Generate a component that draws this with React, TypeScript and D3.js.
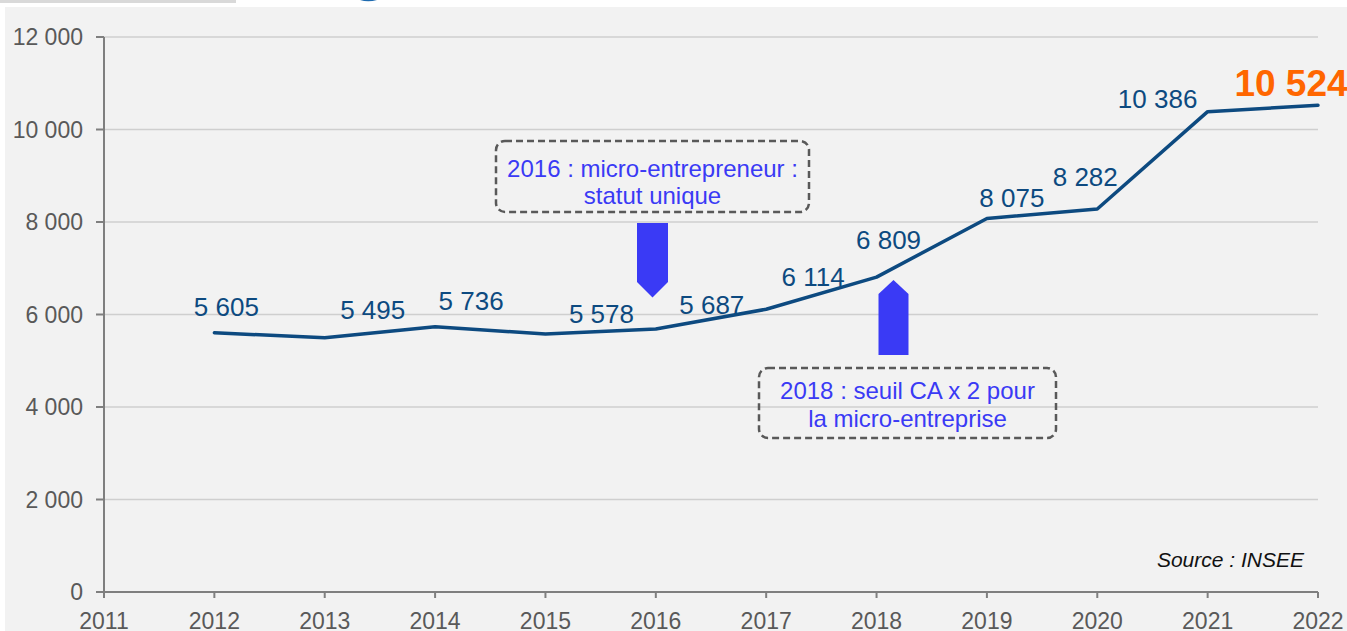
import React from "react";
import * as d3 from "d3";

const years = [2012, 2013, 2014, 2015, 2016, 2017, 2018, 2019, 2020, 2021, 2022];
const values = [5605, 5495, 5736, 5578, 5687, 6114, 6809, 8075, 8282, 10386, 10524];
const valueLabels = ["5 605", "5 495", "5 736", "5 578", "5 687", "6 114", "6 809", "8 075", "8 282", "10 386", "10 524"];
const xTicks = [2011, 2012, 2013, 2014, 2015, 2016, 2017, 2018, 2019, 2020, 2021, 2022];
const yTicks = [0, 2000, 4000, 6000, 8000, 10000, 12000];
const yTickLabels = ["0", "2 000", "4 000", "6 000", "8 000", "10 000", "12 000"];
const note2016 = ["2016 : micro-entrepreneur :", "statut unique"];
const note2018 = ["2018 : seuil CA x 2 pour", "la micro-entreprise"];
const sourceText = "Source : INSEE";

// label placement offsets (layout only)
const labelOffsets: [number, number][] = [
  [12, -17], [48, -19], [36, -17], [56, -11], [56, -15], [47, -23],
  [12, -28], [25, -12], [-12, -23], [-50, -4], [-27, -9],
];

const W = 1347;
const H = 631;
const FONT = "'Liberation Sans', Arial, Helvetica, sans-serif";
const LINE = "#0d4a80";
const BLUE = "#3a3af5";
const AXIS = "#7f7f7f";
const GRID = "#cfcfcf";
const TICKTXT = "#595959";

export default function App() {
  const x = d3.scaleLinear().domain([2011, 2022]).range([104, 1318]);
  const y = d3.scaleLinear().domain([0, 12000]).range([592, 37]);
  const line = d3
    .line<number>()
    .x((_, i) => x(years[i]))
    .y((d) => y(d));

  const last = values.length - 1;

  return (
    <svg
      width={W}
      height={H}
      style={{ position: "fixed", left: 0, top: 0, fontFamily: FONT }}
    >
      <rect x={0} y={0} width={W} height={H} fill="#ffffff" />
      <rect x={0} y={0} width={236} height={3} fill="#d9d9d9" />
      <path d="M360,0 Q368,2.5 377,0 Z" fill="#1f6bb0" />
      <rect x={5} y={7} width={W - 5} height={H - 7} fill="#f2f2f2" />

      {/* gridlines */}
      {yTicks.slice(1).map((t) => (
        <line key={t} x1={104} x2={1318} y1={y(t)} y2={y(t)} stroke={GRID} strokeWidth={1.5} />
      ))}

      {/* axes */}
      <line x1={104} x2={104} y1={y(12000)} y2={y(0)} stroke={AXIS} strokeWidth={2} />
      <line x1={104} x2={1318} y1={y(0)} y2={y(0)} stroke={AXIS} strokeWidth={2} />
      {yTicks.map((t, i) => (
        <g key={t}>
          <line x1={96} x2={104} y1={y(t)} y2={y(t)} stroke={AXIS} strokeWidth={2} />
          <text x={83} y={y(t) + 8} textAnchor="end" fontSize={23} fill={TICKTXT}>
            {yTickLabels[i]}
          </text>
        </g>
      ))}
      {xTicks.map((t) => (
        <g key={t}>
          <line x1={x(t)} x2={x(t)} y1={y(0)} y2={y(0) + 6} stroke={AXIS} strokeWidth={2} />
          <text x={x(t)} y={628.5} textAnchor="middle" fontSize={23} fill={TICKTXT}>
            {t}
          </text>
        </g>
      ))}

      {/* data line */}
      <path
        d={line(values) || ""}
        fill="none"
        stroke={LINE}
        strokeWidth={3.5}
        strokeLinejoin="round"
        strokeLinecap="round"
      />

      {/* data labels */}
      {values.map((v, i) => {
        const [dx, dy] = labelOffsets[i];
        const isLast = i === last;
        return (
          <text
            key={i}
            x={x(years[i]) + dx}
            y={y(v) + dy}
            textAnchor="middle"
            fontSize={isLast ? 37 : 26}
            fontWeight={isLast ? "bold" : "normal"}
            fill={isLast ? "#ff6600" : LINE}
          >
            {valueLabels[i]}
          </text>
        );
      })}

      {/* annotation 2016 */}
      <rect x={496} y={141} width={313} height={71} rx={9} ry={9} fill="none"
        stroke="#595959" strokeWidth={2.5} strokeDasharray="7 4" />
      <text x={652.5} y={176.5} textAnchor="middle" fontSize={24} fill={BLUE}>{note2016[0]}</text>
      <text x={652.5} y={204} textAnchor="middle" fontSize={24} fill={BLUE}>{note2016[1]}</text>
      <path d={`M637,223 L668,223 L668,282 L652.5,297.5 L637,282 Z`} fill={BLUE} />

      {/* annotation 2018 */}
      <path d={`M878.5,355 L908.5,355 L908.5,294 L893.5,280 L878.5,294 Z`} fill={BLUE} />
      <rect x={759} y={368} width={297} height={70} rx={9} ry={9} fill="none"
        stroke="#595959" strokeWidth={2.5} strokeDasharray="7 4" />
      <text x={907.5} y={398.5} textAnchor="middle" fontSize={24} fill={BLUE}>{note2018[0]}</text>
      <text x={907.5} y={426.5} textAnchor="middle" fontSize={24} fill={BLUE}>{note2018[1]}</text>

      {/* source */}
      <text x={1304} y={567} textAnchor="end" fontSize={21} fontStyle="italic" fill="#111111">
        {sourceText}
      </text>
    </svg>
  );
}
